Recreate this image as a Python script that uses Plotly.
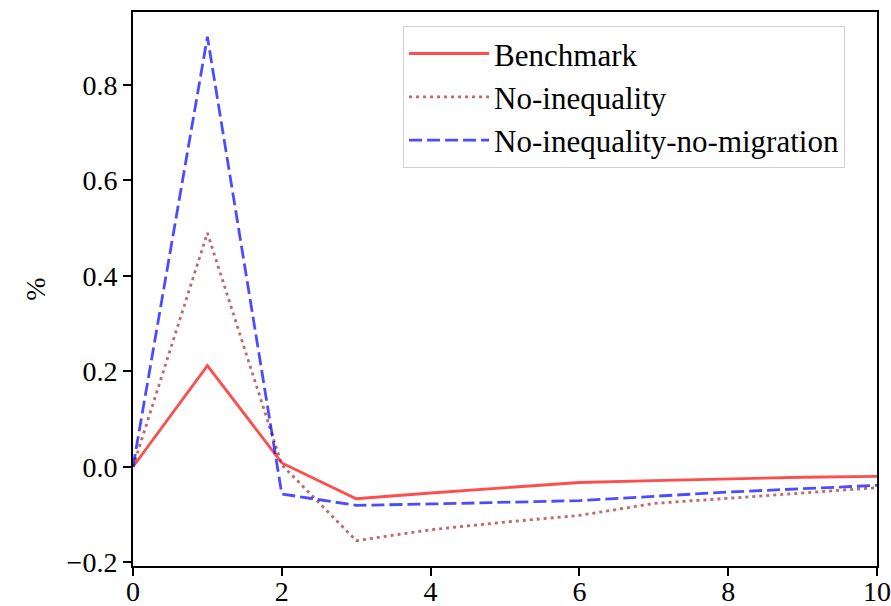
import plotly.graph_objects as go

periods = [0, 1, 2, 3, 4, 5, 6, 7, 8, 9, 10]
benchmark = [0.0, 0.212, 0.008, -0.067, -0.055, -0.044, -0.033, -0.029, -0.025, -0.022, -0.020]
no_inequality = [0.0, 0.490, 0.004, -0.155, -0.132, -0.116, -0.102, -0.077, -0.066, -0.055, -0.044]
no_ineq_no_mig = [0.0, 0.901, -0.057, -0.081, -0.078, -0.075, -0.071, -0.062, -0.053, -0.046, -0.039]

series_names = ["Benchmark", "No-inequality", "No-inequality-no-migration"]
x_ticks = [0, 2, 4, 6, 8, 10]
y_ticks = [-0.2, 0.0, 0.2, 0.4, 0.6, 0.8]
y_tick_text = ["\u22120.2", "0.0", "0.2", "0.4", "0.6", "0.8"]

FONT = "Liberation Serif"
FS = 28
LFS = 31

fig = go.Figure()
fig.add_trace(go.Scatter(x=periods, y=benchmark, mode="lines", name=series_names[0],
                         legendgroup="a",
                         line=dict(color="rgba(255,0,0,0.7)", width=2.8, dash="solid")))
fig.add_trace(go.Scatter(x=periods, y=no_inequality, mode="lines", name=series_names[1],
                         legendgroup="b",
                         line=dict(color="rgba(165,42,42,0.7)", width=2.8, dash="3px,4px")))
fig.add_trace(go.Scatter(x=periods, y=no_ineq_no_mig, mode="lines", name=series_names[2],
                         legendgroup="c",
                         line=dict(color="rgba(0,0,255,0.7)", width=2.8, dash="13px,5px")))

axis_common = dict(
    showline=True, linecolor="black", linewidth=2, mirror=True,
    ticks="outside", ticklen=8, tickwidth=2, tickcolor="black",
    showgrid=False, zeroline=False, automargin=False,
    ticklabeloverflow="allow",
    tickfont=dict(family=FONT, size=FS, color="black"),
)

fig.update_xaxes(range=[0, 10], tickvals=x_ticks, ticktext=[str(v) for v in x_ticks],
                 ticklabelstandoff=-9, **axis_common)
fig.update_yaxes(range=[-0.208, 0.953], tickvals=y_ticks, ticktext=y_tick_text,
                 title=dict(text="%", font=dict(family=FONT, size=FS, color="black"), standoff=13),
                 **axis_common)

fig.update_layout(
    width=891, height=606,
    margin=dict(l=133, r=14, t=12, b=40),
    plot_bgcolor="white", paper_bgcolor="white",
    font=dict(family=FONT, size=FS, color="black"),
    legend=dict(
        x=0.363, y=0.975, xanchor="left", yanchor="top",
        bgcolor="rgba(255,255,255,0.8)", bordercolor="#d0d0d0", borderwidth=1,
        font=dict(family=FONT, size=LFS, color="black"),
        tracegroupgap=0, itemwidth=80,
    ),
    showlegend=True,
)

fig.write_html("out.html")
